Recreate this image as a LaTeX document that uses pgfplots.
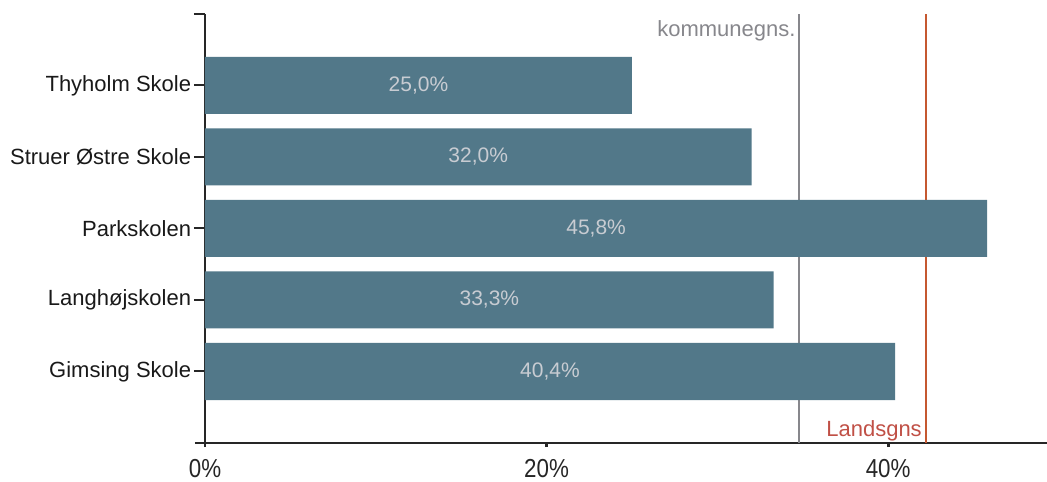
\documentclass[border=0pt]{standalone}
\usepackage{pgfplots}
\pgfplotsset{compat=1.18}
\usepackage{pgfplotstable}
\usepackage{fontspec}
\setmainfont{Liberation Sans}
\newfontfamily\narrowfont[FakeStretch=0.86]{Liberation Sans}

\definecolor{barblue}{RGB}{82,120,137}
\definecolor{lblgray}{RGB}{200,204,210}
\definecolor{kommgray}{RGB}{135,135,140}
\definecolor{landsred}{RGB}{197,88,48}
\definecolor{landstxt}{RGB}{192,80,70}

% y position, share in %
\pgfplotstableread{
y  v
4  25.0
3  32.0
2  45.8
1  33.3
0  40.4
}\schools

\begin{document}
\begin{tikzpicture}
\useasboundingbox (-102.5pt,-19pt) rectangle (421pt,221.5pt);
\begin{axis}[
  at={(0,0)}, anchor=south west,
  scale only axis, width=421pt, height=214.5pt,
  xmin=0, xmax=49.3, ymin=-1, ymax=5,
  axis x line=bottom, axis y line=left,
  axis line style={-, line width=1pt, black!85},
  x axis line style={shorten <=-5pt},
  tick align=outside,
  xtick={0,20,40}, xticklabels={0\%,20\%,40\%},
  xtick style={line width=1.4pt, black!85, /pgfplots/major tick length=2pt},
  xticklabel style={font=\narrowfont\fontsize{13}{15}\selectfont, text=black!85, yshift=-0.5pt},
  ytick={0,...,4},
  yticklabels={Gimsing Skole,Langhøjskolen,Parkskolen,Struer Østre Skole,Thyholm Skole},
  extra y ticks={5}, extra y tick labels={},
  ytick style={line width=1pt, black!85, /pgfplots/major tick length=5.5pt},
  yticklabel style={font=\fontsize{11}{13}\selectfont, text=black!90, inner xsep=2.5pt},
  clip=false,
]
% reference lines (behind the bars)
\addplot[kommgray, line width=0.9pt, mark=none] coordinates {(34.8,-1) (34.8,5)}
  node[pos=1, anchor=north east, inner sep=0pt, xshift=-1.5pt, yshift=-3pt,
       text=kommgray, font=\fontsize{11}{13}\selectfont] {kommunegns.};
\addplot[landsred, line width=1pt, mark=none] coordinates {(42.2,-1) (42.2,5)}
  node[pos=0, anchor=base east, inner sep=0pt, xshift=-1.5pt, yshift=3.5pt,
       text=landstxt, font=\fontsize{11}{13}\selectfont] {Landsgns};
% bars
\addplot[xbar, bar width=28.5pt, fill=barblue, draw=none] table[x=v, y=y] {\schools};
% value labels in the middle of each bar
\addplot[draw=none, mark=none, forget plot,
  point meta=\thisrow{v},
  nodes near coords={\pgfmathprintnumber[fixed,fixed zerofill,precision=1,use comma,assume math mode=true]{\pgfplotspointmeta}\%},
  nodes near coords style={anchor=center, text=lblgray, font=\fontsize{10.5}{12}\selectfont}]
  table[x expr=\thisrow{v}/2, y=y] {\schools};
\end{axis}
\end{tikzpicture}
\end{document}
